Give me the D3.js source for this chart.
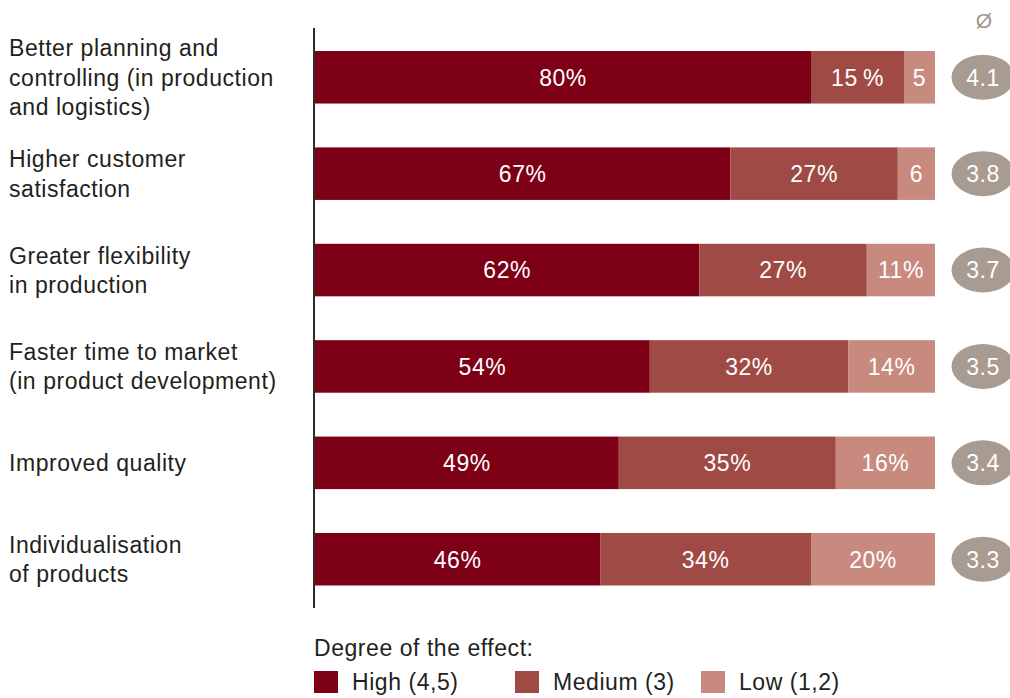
<!DOCTYPE html>
<html>
<head>
<meta charset="utf-8">
<script src="https://cdn.jsdelivr.net/npm/d3@7"></script>
<style>
  html, body { margin: 0; padding: 0; background: #fff; }
  svg { display: block; font-family: "Liberation Sans", Arial, Helvetica, sans-serif; }
</style>
</head>
<body>
<svg id="chart" width="1010" height="698"></svg>
<script>
// ---- data ----
const categories = [
  ["Better planning and", "controlling (in production", "and logistics)"],
  ["Higher customer", "satisfaction"],
  ["Greater flexibility", "in production"],
  ["Faster time to market", "(in product development)"],
  ["Improved quality"],
  ["Individualisation", "of products"]
];
const high   = [80, 67, 62, 54, 49, 46];
const medium = [15, 27, 27, 32, 35, 34];
const low    = [5, 6, 11, 14, 16, 20];
const highLabels   = ["80%", "67%", "62%", "54%", "49%", "46%"];
const mediumLabels = ["15\u2009%", "27%", "27%", "32%", "35%", "34%"];
const lowLabels    = ["5", "6", "11%", "14%", "16%", "20%"];
const averages = ["4.1", "3.8", "3.7", "3.5", "3.4", "3.3"];
const seriesNames = ["High (4,5)", "Medium (3)", "Low (1,2)"];
const legendTitle = "Degree of the effect:";
const avgSymbol = "Ø";

// ---- layout ----
const colors = ["#7d0016", "#a04a46", "#c8897e"];
const textDark = "#231f20";
const ellipseColor = "#a89c92";
const fontSize = 23;
const letterSp = "0.55px";

const svg = d3.select("#chart");
const idx = d3.range(categories.length);

const x = d3.scaleLinear().domain([0, 100]).range([315, 935]);
const y = d3.scaleBand().domain(idx).range([51, 585.5]).paddingInner(0.455).paddingOuter(0);

// stacked data
const stackRows = idx.map(i => ({ i, high: high[i], medium: medium[i], low: low[i] }));
const stack = d3.stack().keys(["high", "medium", "low"]);
const layers = stack(stackRows);
const labelSets = [highLabels, mediumLabels, lowLabels];

// axis line
svg.append("line")
  .attr("x1", 314).attr("x2", 314)
  .attr("y1", 28).attr("y2", 608)
  .attr("stroke", "#2b2b2b").attr("stroke-width", 2);

layers.forEach((layer, k) => {
  const g = svg.append("g");
  g.selectAll("rect").data(layer).join("rect")
    .attr("x", d => x(d[0]))
    .attr("y", (d, i) => y(i))
    .attr("width", d => x(d[1]) - x(d[0]))
    .attr("height", y.bandwidth())
    .attr("fill", colors[k]);
  g.selectAll("text").data(layer).join("text")
    .attr("x", d => (x(d[0]) + x(d[1])) / 2)
    .attr("y", (d, i) => y(i) + y.bandwidth() / 2)
    .attr("dy", "0.36em")
    .attr("text-anchor", "middle")
    .attr("fill", "#fff")
    .attr("font-size", fontSize)
    .style("letter-spacing", letterSp)
    .text((d, i) => labelSets[k][i]);
});

// category labels
const lineH = 29.5;
idx.forEach(i => {
  const lines = categories[i];
  const cy = y(i) + y.bandwidth() / 2;
  const t = svg.append("text")
    .attr("x", 9)
    .attr("fill", textDark)
    .attr("font-size", fontSize)
    .style("letter-spacing", letterSp);
  lines.forEach((ln, j) => {
    t.append("tspan")
      .attr("x", 9)
      .attr("y", cy + (j - (lines.length - 1) / 2) * lineH)
      .attr("dy", "0.36em")
      .text(ln);
  });
});

// averages
const avgX = 983;
svg.append("text")
  .attr("x", avgX + 1).attr("y", 20)
  .attr("dy", "0.36em")
  .attr("text-anchor", "middle")
  .attr("fill", "#a0958d")
  .attr("font-size", 21)
  .text(avgSymbol);

const ag = svg.append("g");
ag.selectAll("ellipse").data(averages).join("ellipse")
  .attr("cx", avgX)
  .attr("cy", (d, i) => y(i) + y.bandwidth() / 2)
  .attr("rx", 31.5).attr("ry", 22.5)
  .attr("fill", ellipseColor);
ag.selectAll("text").data(averages).join("text")
  .attr("x", avgX)
  .attr("y", (d, i) => y(i) + y.bandwidth() / 2)
  .attr("dy", "0.36em")
  .attr("text-anchor", "middle")
  .attr("fill", "#fff")
  .attr("font-size", fontSize)
  .style("letter-spacing", letterSp)
  .text(d => d);

// legend
svg.append("text")
  .attr("x", 314).attr("y", 648).attr("dy", "0.36em")
  .attr("fill", textDark)
  .attr("font-size", fontSize)
  .style("letter-spacing", letterSp)
  .text(legendTitle);

const legX = [314, 515, 701];
const lg = svg.append("g");
seriesNames.forEach((name, k) => {
  lg.append("rect")
    .attr("x", legX[k]).attr("y", 671)
    .attr("width", 24).attr("height", 22)
    .attr("fill", colors[k]);
  lg.append("text")
    .attr("x", legX[k] + 38).attr("y", 682).attr("dy", "0.36em")
    .attr("fill", textDark)
    .attr("font-size", fontSize)
    .style("letter-spacing", letterSp)
    .text(name);
});
</script>
</body>
</html>
